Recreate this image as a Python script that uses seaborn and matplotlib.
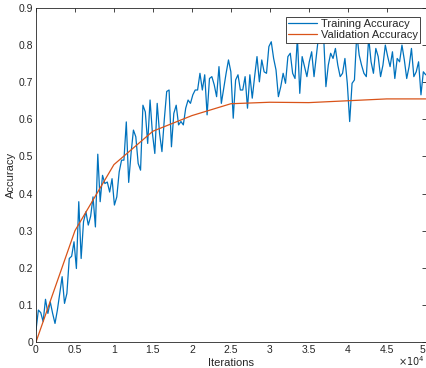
import numpy as np
import pandas as pd
import seaborn as sns
import matplotlib.pyplot as plt

# training accuracy, logged at even steps over 0..50000 iterations
train_acc = [
    0.032, 0.086, 0.079, 0.055, 0.115, 0.077, 0.108, 0.077, 0.050, 0.086,
    0.131, 0.176, 0.104, 0.131, 0.225, 0.231, 0.270, 0.198, 0.378, 0.225,
    0.324, 0.351, 0.315, 0.339, 0.391, 0.310, 0.506, 0.378, 0.449, 0.427,
    0.431, 0.404, 0.440, 0.369, 0.391, 0.458, 0.490, 0.490,
    0.593, 0.430, 0.508, 0.571, 0.553, 0.481, 0.463, 0.638, 0.620, 0.535,
    0.652, 0.562, 0.508, 0.643, 0.562,
    0.513, 0.600, 0.675, 0.679, 0.526, 0.616, 0.638, 0.585, 0.594, 0.585,
    0.630, 0.652, 0.643, 0.666, 0.679, 0.679, 0.724, 0.679, 0.720, 0.612,
    0.710, 0.715, 0.693, 0.661, 0.742, 0.643, 0.683, 0.724, 0.760, 0.728,
    0.603, 0.706, 0.720, 0.679, 0.679, 0.715, 0.630, 0.720, 0.657, 0.715,
    0.769, 0.701, 0.760, 0.728, 0.724, 0.796, 0.809, 0.764, 0.733, 0.661,
    0.688, 0.724, 0.697, 0.769, 0.778, 0.724,
    0.710, 0.820, 0.670, 0.769, 0.742, 0.715, 0.755, 0.782, 0.715, 0.773,
    0.830, 0.810, 0.830, 0.688, 0.746, 0.778, 0.764, 0.791, 0.746, 0.715,
    0.724, 0.764, 0.697, 0.594, 0.697, 0.706, 0.830, 0.773, 0.746, 0.724,
    0.715, 0.820, 0.755, 0.724, 0.791, 0.769, 0.715, 0.746, 0.800, 0.769,
    0.742, 0.782, 0.710, 0.764, 0.755, 0.800, 0.760, 0.710, 0.742, 0.791,
    0.715, 0.728, 0.755, 0.666, 0.728, 0.720,
]
train_iter = np.linspace(0, 50000, len(train_acc))

val_iter = [0, 5000, 10000, 15000, 20000, 25000, 30000, 35000, 40000, 45000, 50000]
val_acc = [0.0, 0.300, 0.478, 0.568, 0.610, 0.642, 0.646, 0.645, 0.650, 0.655, 0.655]

x_ticks = [0, 5000, 10000, 15000, 20000, 25000, 30000, 35000, 40000, 45000, 50000]
x_labels = ["0", "0.5", "1", "1.5", "2", "2.5", "3", "3.5", "4", "4.5", "5"]
y_ticks = [0, 0.1, 0.2, 0.3, 0.4, 0.5, 0.6, 0.7, 0.8, 0.9]
y_labels = ["0", "0.1", "0.2", "0.3", "0.4", "0.5", "0.6", "0.7", "0.8", "0.9"]

train_df = pd.DataFrame({"Iterations": train_iter, "Accuracy": train_acc})
val_df = pd.DataFrame({"Iterations": val_iter, "Accuracy": val_acc})

sns.set_style("white")
plt.rcParams["font.family"] = ["Liberation Sans", "DejaVu Sans"]
plt.rcParams["xtick.direction"] = "in"
plt.rcParams["ytick.direction"] = "in"

axis_col = "#262626"

fig = plt.figure(figsize=(4.27, 3.68), dpi=100)
ax = fig.add_axes([0.0843, 0.0707, 0.9127, 0.9076])

sns.lineplot(data=train_df, x="Iterations", y="Accuracy", ax=ax,
             color="#0072BD", linewidth=0.9, label="Training Accuracy")
sns.lineplot(data=val_df, x="Iterations", y="Accuracy", ax=ax,
             color="#D95319", linewidth=0.9, label="Validation Accuracy")

ax.set_xlim(0, 50000)
ax.set_ylim(0, 0.9)
ax.set_xticks(x_ticks)
ax.set_xticklabels(x_labels)
ax.set_yticks(y_ticks)
ax.set_yticklabels(y_labels)
ax.tick_params(axis="both", labelsize=7.5, colors=axis_col, length=3, width=0.6,
               top=True, right=True, pad=2)
# the figure ends at the right spine, keep the last label inside it
ax.get_xticklabels()[-1].set_horizontalalignment("right")
for s in ax.spines.values():
    s.set_color(axis_col)
    s.set_linewidth(0.6)

ax.set_xlabel("Iterations", fontsize=8, color=axis_col, labelpad=2)
ax.set_ylabel("Accuracy", fontsize=8, color=axis_col, labelpad=2)
# exponent marker for the x axis, as MATLAB draws it
ax.text(0.997, -0.058, r"$\times10^4$", transform=ax.transAxes, fontsize=7,
        color=axis_col, ha="right", va="center")

leg = ax.legend(loc="upper right", bbox_to_anchor=(0.985, 0.973), borderaxespad=0,
                fontsize=8, frameon=True, fancybox=False, framealpha=1,
                edgecolor=axis_col, handlelength=2.6, borderpad=0.2,
                labelspacing=0.1, handletextpad=0.3)
leg.get_frame().set_linewidth(0.6)

fig.savefig("out.png", dpi=100)
